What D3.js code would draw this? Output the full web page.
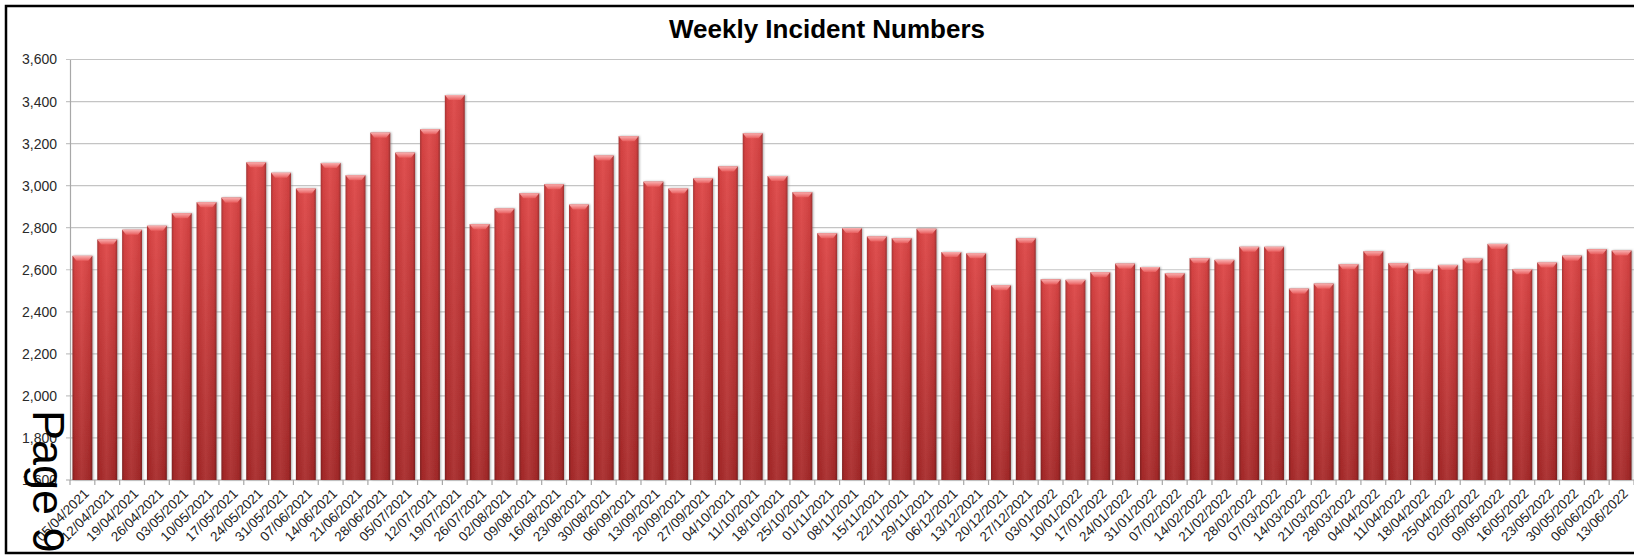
<!DOCTYPE html>
<html>
<head>
<meta charset="utf-8">
<script src="https://cdn.jsdelivr.net/npm/d3@7"></script>
<style>
  body { margin: 0; background: #fff; }
  text { font-family: "Liberation Sans", Arial, sans-serif; }
</style>
</head>
<body>
<div id="chart-area"></div>
<script>

// Data
var weeks = ["05/04/2021", "12/04/2021", "19/04/2021", "26/04/2021", "03/05/2021", "10/05/2021",
    "17/05/2021", "24/05/2021", "31/05/2021", "07/06/2021", "14/06/2021", "21/06/2021", "28/06/2021",
    "05/07/2021", "12/07/2021", "19/07/2021", "26/07/2021", "02/08/2021", "09/08/2021", "16/08/2021",
    "23/08/2021", "30/08/2021", "06/09/2021", "13/09/2021", "20/09/2021", "27/09/2021", "04/10/2021",
    "11/10/2021", "18/10/2021", "25/10/2021", "01/11/2021", "08/11/2021", "15/11/2021", "22/11/2021",
    "29/11/2021", "06/12/2021", "13/12/2021", "20/12/2021", "27/12/2021", "03/01/2022", "10/01/2022",
    "17/01/2022", "24/01/2022", "31/01/2022", "07/02/2022", "14/02/2022", "21/02/2022", "28/02/2022",
    "07/03/2022", "14/03/2022", "21/03/2022", "28/03/2022", "04/04/2022", "11/04/2022", "18/04/2022",
    "25/04/2022", "02/05/2022", "09/05/2022", "16/05/2022", "23/05/2022", "30/05/2022", "06/06/2022",
    "13/06/2022"];

var incidents = [2666, 2744, 2790, 2809, 2869, 2921, 2943, 3111, 3061, 2986, 3108, 3049, 3252,
    3157, 3268, 3431, 2817, 2891, 2964, 3007, 2910, 3143, 3235, 3019, 2986, 3035, 3091,
    3249, 3046, 2969, 2774, 2798, 2758, 2750, 2795, 2684, 2678, 2526, 2750, 2554, 2552,
    2588, 2629, 2613, 2583, 2655, 2647, 2709, 2709, 2510, 2534, 2626, 2688, 2631, 2602,
    2623, 2653, 2723, 2602, 2634, 2667, 2698, 2691];

var yTicks = [1600, 1800, 2000, 2200, 2400, 2600, 2800, 3000, 3200, 3400, 3600];

var chartTitle = "Weekly Incident Numbers";
var pageLabel = "Page 9";

var data = weeks.map(function(w, i) {
    return {WEEK: w, VALUE: incidents[i]};
});


// SVG drawing area
var W = 1634, H = 555;
var plot = {left: 70, right: 1634, top: 59.5, bottom: 480};

var svg = d3.select("#chart-area").append("svg")
    .attr("width", W)
    .attr("height", H);

var defs = svg.append("defs");

var body = defs.append("linearGradient")
    .attr("id", "bar-body")
    .attr("x1", 0).attr("y1", 0).attr("x2", 0).attr("y2", 1);
body.append("stop").attr("offset", "0%").attr("stop-color", "#de4646");
body.append("stop").attr("offset", "100%").attr("stop-color", "#a82a2a");

var side = defs.append("linearGradient")
    .attr("id", "bar-side")
    .attr("x1", 0).attr("y1", 0).attr("x2", 1).attr("y2", 0);
side.append("stop").attr("offset", "0%").attr("stop-color", "#000").attr("stop-opacity", 0.25);
side.append("stop").attr("offset", "12%").attr("stop-color", "#000").attr("stop-opacity", 0.04);
side.append("stop").attr("offset", "45%").attr("stop-color", "#fff").attr("stop-opacity", 0.06);
side.append("stop").attr("offset", "88%").attr("stop-color", "#000").attr("stop-opacity", 0.06);
side.append("stop").attr("offset", "100%").attr("stop-color", "#000").attr("stop-opacity", 0.3);

var bevel = defs.append("linearGradient")
    .attr("id", "bar-bevel")
    .attr("x1", 0).attr("y1", 0).attr("x2", 0).attr("y2", 1);
bevel.append("stop").attr("offset", "0%").attr("stop-color", "#f9b0b0");
bevel.append("stop").attr("offset", "100%").attr("stop-color", "#e85c5c");

var shadow = defs.append("filter")
    .attr("id", "bar-shadow")
    .attr("x", "-30%").attr("y", "-5%").attr("width", "160%").attr("height", "110%");
shadow.append("feDropShadow")
    .attr("dx", 1).attr("dy", 0)
    .attr("stdDeviation", 1.2)
    .attr("flood-color", "#777")
    .attr("flood-opacity", 0.6);


// Scales
var x = d3.scaleBand()
    .domain(weeks)
    .range([plot.left, plot.right])
    .paddingInner(0.2)
    .paddingOuter(0.1);

var y = d3.scaleLinear()
    .domain([1600, 3600])
    .range([plot.bottom, plot.top]);


// Gridlines
svg.append("g")
    .attr("class", "grid")
    .selectAll("line")
    .data(yTicks)
    .enter().append("line")
    .attr("x1", plot.left - 4)
    .attr("x2", W)
    .attr("y1", function(d) { return y(d); })
    .attr("y2", function(d) { return y(d); })
    .attr("stroke", function(d) { return d == 1600 ? "#a8a8a8" : "#c4c4c4"; })
    .attr("stroke-width", 1.2);

// Y axis
var yAxis = d3.axisLeft(y)
    .tickValues(yTicks)
    .tickSize(0)
    .tickPadding(13)
    .tickFormat(d3.format(","));

svg.append("g")
    .attr("class", "axis y-axis")
    .attr("transform", "translate(" + plot.left + ",0)")
    .call(yAxis)
    .call(function(g) {
        g.select(".domain").attr("stroke", "#a8a8a8").attr("stroke-width", 1.2);
        g.selectAll("text")
            .attr("font-size", "14px")
            .attr("fill", "#2a2a2a")
            .style("font-family", "'Liberation Sans', Arial, sans-serif");
    });

// X axis ticks sit between categories
var step = x.step();
svg.append("g")
    .attr("class", "x-ticks")
    .selectAll("line")
    .data(d3.range(weeks.length + 1))
    .enter().append("line")
    .attr("x1", function(i) { return plot.left + i * step; })
    .attr("x2", function(i) { return plot.left + i * step; })
    .attr("y1", plot.bottom)
    .attr("y2", plot.bottom + 5)
    .attr("stroke", "#a8a8a8")
    .attr("stroke-width", 1.2);

svg.append("g")
    .attr("class", "x-labels")
    .selectAll("text")
    .data(data)
    .enter().append("text")
    .attr("transform", function(d) {
        return "translate(" + (x(d.WEEK) + x.bandwidth() / 2 + 4) + "," + (plot.bottom + 11) + ") rotate(-45)";
    })
    .attr("text-anchor", "end")
    .attr("dy", "0.35em")
    .attr("font-size", "13.5px")
    .attr("fill", "#222")
    .text(function(d) { return d.WEEK; });


// Bars
var bars = svg.append("g")
    .attr("class", "bars")
    .selectAll("g")
    .data(data)
    .enter().append("g")
    .attr("filter", "url(#bar-shadow)");

bars.append("rect")
    .attr("x", function(d) { return x(d.WEEK); })
    .attr("y", function(d) { return y(d.VALUE); })
    .attr("width", x.bandwidth())
    .attr("height", function(d) { return y(1600) - y(d.VALUE); })
    .attr("fill", "url(#bar-body)");

bars.append("rect")
    .attr("x", function(d) { return x(d.WEEK); })
    .attr("y", function(d) { return y(d.VALUE); })
    .attr("width", x.bandwidth())
    .attr("height", function(d) { return y(1600) - y(d.VALUE); })
    .attr("fill", "url(#bar-side)");

// bevelled top of each bar
bars.append("path")
    .attr("d", function(d) {
        var x0 = x(d.WEEK), x1 = x0 + x.bandwidth(), t = y(d.VALUE);
        return "M" + x0 + "," + t + "L" + x1 + "," + t +
            "L" + (x1 - 4) + "," + (t + 5) + "L" + (x0 + 4) + "," + (t + 5) + "Z";
    })
    .attr("fill", "url(#bar-bevel)");


// Title
svg.append("text")
    .attr("x", 827)
    .attr("y", 38)
    .attr("text-anchor", "middle")
    .attr("font-size", "26px")
    .attr("font-weight", "bold")
    .attr("fill", "#000")
    .text(chartTitle);

// Frame (cut off on the right, like the source page)
svg.append("path")
    .attr("d", "M" + (W + 5) + ",6 L6,6 L6,553 L" + (W + 5) + ",553")
    .attr("fill", "none")
    .attr("stroke", "#000")
    .attr("stroke-width", 2.5);

// Page number stamped over the axis
svg.append("text")
    .attr("transform", "translate(33,410) rotate(90)")
    .attr("font-size", "45px")
    .attr("fill", "#000")
    .text(pageLabel);

</script>
</body>
</html>
